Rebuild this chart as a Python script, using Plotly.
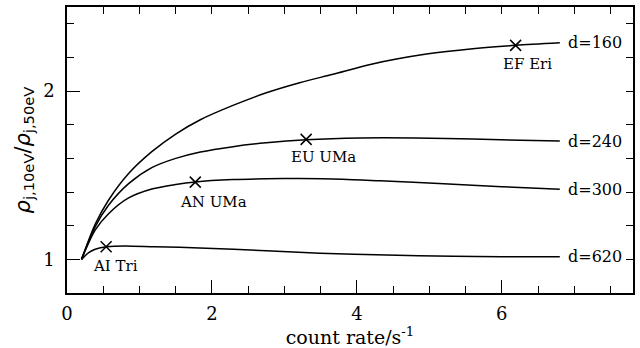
import plotly.graph_objects as go

# ---- data ----
x_d160 = [0.2, 0.39, 0.57, 0.85, 1.17, 1.5, 1.84, 2.29, 2.75, 3.21, 3.67, 4.2, 4.96, 5.6, 6.19, 6.8]
y_d160 = [1.0, 1.21, 1.35, 1.51, 1.64, 1.745, 1.83, 1.915, 1.99, 2.05, 2.10, 2.16, 2.22, 2.252, 2.272, 2.287]

x_d240 = [0.2, 0.39, 0.57, 0.85, 1.17, 1.5, 1.84, 2.29, 2.75, 3.3, 4.04, 4.8, 5.6, 6.8]
y_d240 = [1.0, 1.195, 1.32, 1.45, 1.545, 1.60, 1.638, 1.670, 1.693, 1.711, 1.722, 1.722, 1.715, 1.703]

x_d300 = [0.2, 0.39, 0.57, 0.85, 1.17, 1.5, 1.77, 2.29, 2.75, 3.21, 3.8, 4.32, 5.2, 6.0, 6.8]
y_d300 = [1.0, 1.175, 1.27, 1.365, 1.418, 1.445, 1.46, 1.474, 1.479, 1.48, 1.476, 1.467, 1.45, 1.432, 1.416]

x_d620 = [0.2, 0.3, 0.39, 0.55, 0.8, 1.21, 1.83, 2.75, 3.49, 4.41, 5.33, 6.0, 6.8]
y_d620 = [1.0, 1.04, 1.06, 1.075, 1.08, 1.075, 1.068, 1.051, 1.036, 1.026, 1.018, 1.016, 1.015]

curve_labels = ["d=160", "d=240", "d=300", "d=620"]

star_names = ["AI Tri", "AN UMa", "EU UMa", "EF Eri"]
star_x = [0.54, 1.77, 3.30, 6.19]
star_y = [1.075, 1.459, 1.713, 2.272]
star_label_x = [0.676, 2.02, 3.545, 6.35]
star_label_y = [0.96, 1.342, 1.606, 2.16]

x_ticks = [0, 2, 4, 6]
y_ticks = [1, 2]

SERIF = "DejaVu Serif"

fig = go.Figure()
curves = [(x_d160, y_d160), (x_d240, y_d240), (x_d300, y_d300), (x_d620, y_d620)]
for (xs, ys), lab in zip(curves, curve_labels):
    fig.add_trace(go.Scatter(x=xs, y=ys, mode="lines",
                             line=dict(color="black", width=1.5, shape="spline", smoothing=0.8),
                             showlegend=False, hoverinfo="skip"))
    fig.add_annotation(x=6.88, y=ys[-1], text=lab, showarrow=False, xanchor="left",
                       yanchor="middle", font=dict(family=SERIF, size=16, color="black"))

fig.add_trace(go.Scatter(x=star_x, y=star_y, mode="markers",
                         marker=dict(symbol="x-thin", size=11, line=dict(color="black", width=1.5)),
                         showlegend=False, hoverinfo="skip"))
for nm, lx, ly in zip(star_names, star_label_x, star_label_y):
    fig.add_annotation(x=lx, y=ly, text=nm, showarrow=False, xanchor="center", yanchor="middle",
                       font=dict(family=SERIF, size=15, color="black"))

# dummy trace for mirrored tick axes
fig.add_trace(go.Scatter(x=[None], y=[None], xaxis="x2", yaxis="y2", showlegend=False, hoverinfo="skip"))

XR = [0, 7.81]
YR = [0.8, 2.5]
fig.update_layout(
    width=640, height=348,
    margin=dict(l=67, r=7, t=7, b=55),
    paper_bgcolor="white", plot_bgcolor="white",
    font=dict(family=SERIF, color="black", size=16),
    xaxis=dict(range=XR, tickvals=x_ticks, ticks="inside", ticklen=13, tickwidth=1, tickcolor="black",
               showline=True, linecolor="black", linewidth=1.5, showgrid=False, zeroline=False,
               tickfont=dict(family=SERIF, size=18), ticklabelstandoff=4,
               minor=dict(dtick=0.5, tick0=0, ticks="inside", ticklen=7, tickwidth=1, tickcolor="black", showgrid=False),
               title=dict(text="count rate/s<sup>-1</sup>", font=dict(family=SERIF, size=19), standoff=1)),
    yaxis=dict(range=YR, tickvals=y_ticks, ticks="inside", ticklen=13, tickwidth=1, tickcolor="black",
               showline=True, linecolor="black", linewidth=1.5, showgrid=False, zeroline=False,
               tickfont=dict(family=SERIF, size=18), ticklabelstandoff=7,
               minor=dict(dtick=0.2, tick0=0, ticks="inside", ticklen=7, tickwidth=1, tickcolor="black", showgrid=False),
               title=dict(text="<i>ρ</i><sub>j,10eV</sub>/<i>ρ</i><sub>j,50eV</sub>",
                          font=dict(family="DejaVu Sans", size=21), standoff=7)),
    xaxis2=dict(range=XR, overlaying="x", side="top", anchor="y", showticklabels=False,
                tickmode="linear", tick0=0, dtick=0.5, ticks="inside", ticklen=7, tickwidth=1, tickcolor="black",
                showline=True, linecolor="black", linewidth=1.5, showgrid=False, zeroline=False),
    yaxis2=dict(range=YR, overlaying="y", side="right", anchor="x", showticklabels=False,
                tickmode="linear", tick0=0, dtick=0.2, ticks="inside", ticklen=7, tickwidth=1, tickcolor="black",
                showline=True, linecolor="black", linewidth=1.5, showgrid=False, zeroline=False),
)

fig.write_html("out.html")
